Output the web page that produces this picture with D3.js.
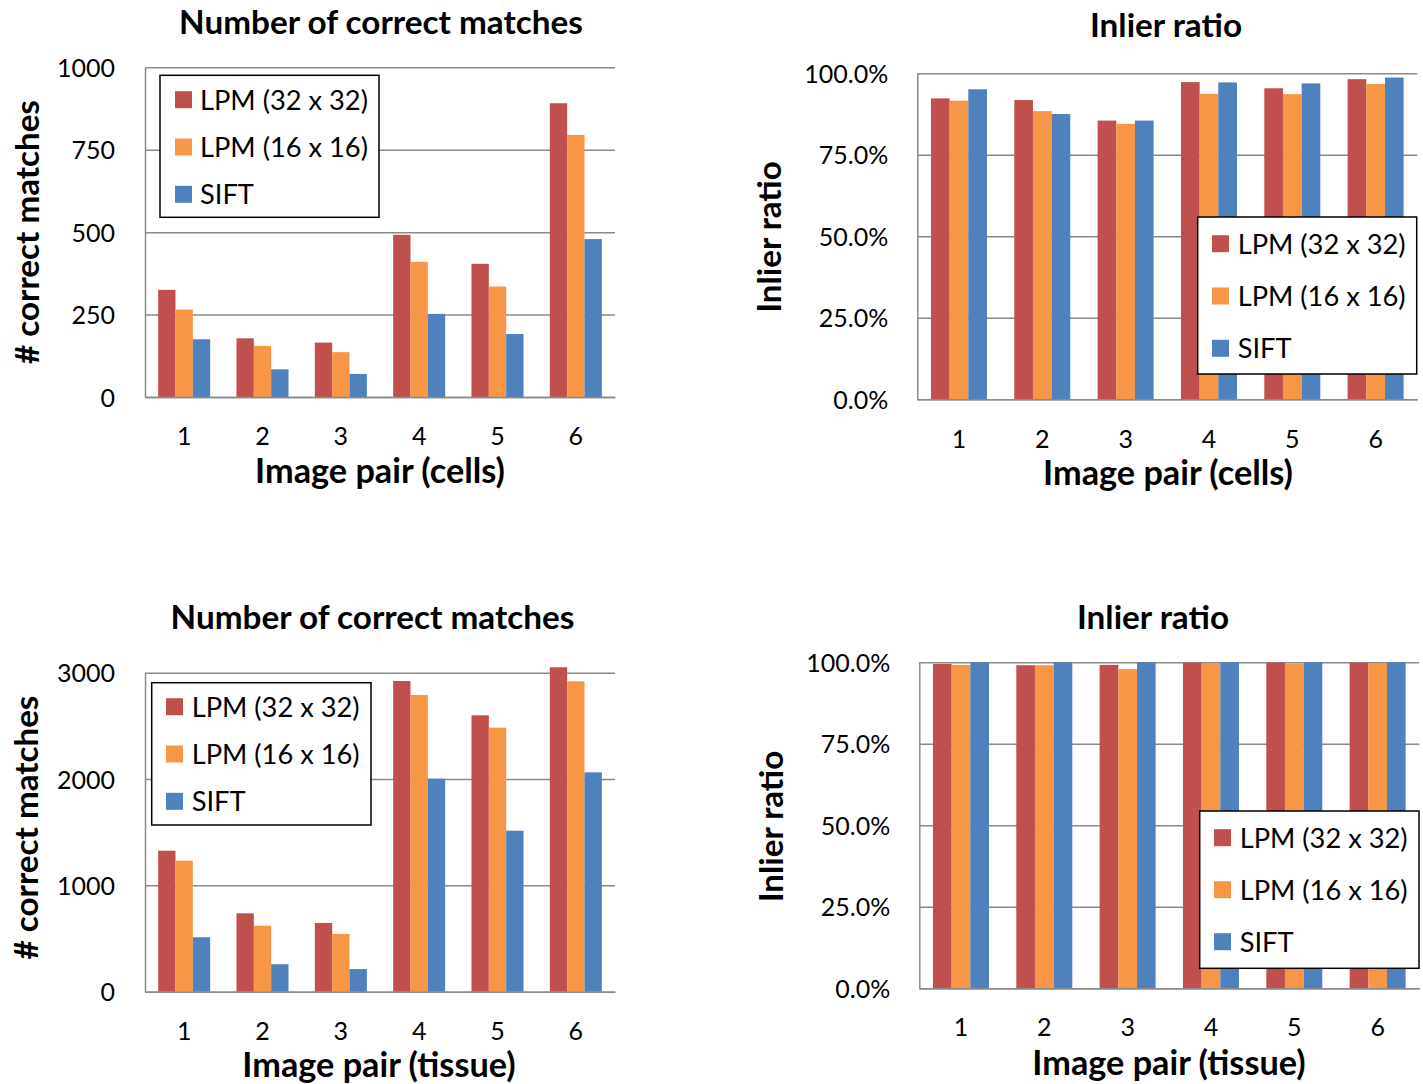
<!DOCTYPE html>
<html>
<head>
<meta charset="utf-8">
<script src="https://cdn.jsdelivr.net/npm/d3@7"></script>
<style>
  html, body { margin: 0; padding: 0; background: #fff; }
  svg { display: block; font-family: Lato, "Open Sans", sans-serif; }
</style>
</head>
<body>
<svg id="chart" width="1423" height="1084"></svg>
<script>
// ---------------- DATA ----------------
const categories = ["1", "2", "3", "4", "5", "6"];
const seriesNames = ["LPM (32 x 32)", "LPM (16 x 16)", "SIFT"];
const seriesColors = ["#C0504D", "#F79646", "#4F81BD"];

// Number of correct matches (cells)
const cellsMatchesLPM32 = [325, 178, 165, 492, 404, 891];
const cellsMatchesLPM16 = [265, 155, 136, 410, 335, 795];
const cellsMatchesSIFT  = [175, 84, 70, 252, 191, 479];

// Inlier ratio in % (cells)
const cellsInlierLPM32 = [92.3, 91.8, 85.5, 97.3, 95.4, 98.2];
const cellsInlierLPM16 = [91.6, 88.4, 84.5, 93.7, 93.6, 96.7];
const cellsInlierSIFT  = [95.1, 87.5, 85.5, 97.2, 96.9, 98.7];

// Number of correct matches (tissue)
const tissueMatchesLPM32 = [1326, 737, 646, 2922, 2599, 3051];
const tissueMatchesLPM16 = [1232, 621, 543, 2790, 2483, 2919];
const tissueMatchesSIFT  = [512, 258, 213, 2003, 1514, 2063];

// Inlier ratio in % (tissue)
const tissueInlierLPM32 = [99.5, 99.1, 99.2, 99.9, 99.9, 99.9];
const tissueInlierLPM16 = [99.2, 99.1, 97.9, 99.8, 99.6, 99.8];
const tissueInlierSIFT  = [100, 100, 100, 100, 100, 100];

// Tick values / labels
const cellsMatchTicks = [0, 250, 500, 750, 1000];
const tissueMatchTicks = [0, 1000, 2000, 3000];
const ratioTicks = [0, 25, 50, 75, 100];
const ratioTickLabels = ["0.0%", "25.0%", "50.0%", "75.0%", "100.0%"];

const titleMatches = "Number of correct matches";
const titleRatio = "Inlier ratio";
const yTitleMatches = "# correct matches";
const yTitleRatio = "Inlier ratio";
const xTitleCells = "Image pair (cells)";
const xTitleTissue = "Image pair (tissue)";

// ---------------- LAYOUT ----------------
const svg = d3.select("#chart");
const FONT = 'Lato, "Open Sans", sans-serif';
const GRID = "#8a8a8a";

function fitSize(text, weight, target) {
  const t = svg.append("text").attr("font-family", FONT).attr("font-weight", weight)
    .attr("font-size", 100).text(text);
  const w = t.node().getComputedTextLength();
  t.remove();
  return 100 * target / w;
}
const tickFS = fitSize("1000", 400, 58);
const legendFS = fitSize("LPM (32 x 32)", 400, 168);
const titleFS = fitSize(titleMatches, 700, 404);
const xTitleFS = fitSize(xTitleCells, 700, 250);
const yTitleFS = fitSize(yTitleMatches, 700, 264);

const panels = [
  { left: 145, right: 615, top: 67.3, bottom: 397, pad: 0.336,
    domain: [0, 1000], ticks: cellsMatchTicks, labels: cellsMatchTicks.map(String),
    series: [cellsMatchesLPM32, cellsMatchesLPM16, cellsMatchesSIFT],
    title: titleMatches, titleX: 381, titleY: 34,
    xTitle: xTitleCells, xTitleX: 380, xTitleOff: 86, xTickOff: 39,
    yTitle: yTitleMatches, yTitleX: 39, yTitleY: 232, tickPad: 30,
    legend: { x: 160, y: 75.3, w: 219, h: 142, first: 24.4, step: 47.3, sw: 15 } },
  { left: 917.3, right: 1417.3, top: 73.3, bottom: 399.3, pad: 0.328,
    domain: [0, 100], ticks: ratioTicks, labels: ratioTickLabels,
    series: [cellsInlierLPM32, cellsInlierLPM16, cellsInlierSIFT],
    title: titleRatio, titleX: 1166, titleY: 37,
    xTitle: xTitleCells, xTitleX: 1168, xTitleOff: 86, xTickOff: 40,
    yTitle: yTitleRatio, yTitleX: 781, yTitleY: 237, tickPad: 29,
    legend: { x: 1197.7, y: 217, w: 219, h: 157, first: 26.7, step: 52.3, sw: 14.3 } },
  { left: 145, right: 615, top: 672.7, bottom: 991.7, pad: 0.336,
    domain: [0, 3000], ticks: tissueMatchTicks, labels: tissueMatchTicks.map(String),
    series: [tissueMatchesLPM32, tissueMatchesLPM16, tissueMatchesSIFT],
    title: titleMatches, titleX: 372.5, titleY: 629,
    xTitle: xTitleTissue, xTitleX: 379, xTitleOff: 85, xTickOff: 39,
    yTitle: yTitleMatches, yTitleX: 38, yTitleY: 827.5, tickPad: 30,
    legend: { x: 151.7, y: 682.7, w: 219.3, h: 142.3, first: 24, step: 47.3, sw: 14.3 } },
  { left: 919.3, right: 1419.3, top: 662.3, bottom: 988.3, pad: 0.328,
    domain: [0, 100], ticks: ratioTicks, labels: ratioTickLabels,
    series: [tissueInlierLPM32, tissueInlierLPM16, tissueInlierSIFT],
    title: titleRatio, titleX: 1153, titleY: 629,
    xTitle: xTitleTissue, xTitleX: 1169, xTitleOff: 87, xTickOff: 39,
    yTitle: yTitleRatio, yTitleX: 783, yTitleY: 826.5, tickPad: 29,
    legend: { x: 1199.7, y: 811, w: 219.3, h: 157.3, first: 26.7, step: 52, sw: 14.3 } }
];

panels.forEach(p => {
  const g = svg.append("g");
  const x = d3.scaleBand().domain(categories).range([p.left, p.right])
    .paddingInner(p.pad).paddingOuter(p.pad / 2);
  const xs = d3.scaleBand().domain(d3.range(seriesNames.length)).range([0, x.bandwidth()]);
  const y = d3.scaleLinear().domain(p.domain).range([p.bottom, p.top]);
  const width = p.right - p.left;

  // gridlines + y axis
  const yAxis = g.append("g").attr("transform", `translate(${p.left},0)`)
    .call(d3.axisLeft(y).tickValues(p.ticks).tickSize(-width).tickSizeOuter(0)
      .tickPadding(p.tickPad).tickFormat((d, i) => p.labels[i]));
  yAxis.selectAll("line").attr("stroke", GRID).attr("stroke-width", 1.5);
  yAxis.select(".domain").attr("stroke", GRID).attr("stroke-width", 1.5);
  yAxis.selectAll("text").attr("font-family", FONT).attr("font-size", tickFS)
    .attr("fill", "#000").attr("dy", "0.36em");

  // bars
  p.series.forEach((vals, si) => {
    g.append("g").selectAll("rect").data(vals).join("rect")
      .attr("x", (d, i) => x(categories[i]) + xs(si))
      .attr("width", xs.bandwidth())
      .attr("y", d => y(d))
      .attr("height", d => y(p.domain[0]) - y(d))
      .attr("fill", seriesColors[si]);
  });

  // x axis
  const xAxis = g.append("g").attr("transform", `translate(0,${p.bottom})`)
    .call(d3.axisBottom(x).tickSize(0).tickSizeOuter(0).tickPadding(0));
  xAxis.select(".domain").attr("stroke", GRID).attr("stroke-width", 1.5);
  xAxis.selectAll("text").attr("font-family", FONT).attr("font-size", tickFS)
    .attr("fill", "#000").attr("y", p.xTickOff).attr("dy", "0.36em");

  // titles
  g.append("text").attr("x", p.titleX).attr("y", p.titleY).attr("text-anchor", "middle")
    .attr("font-family", FONT).attr("font-weight", 700).attr("font-size", titleFS).text(p.title);
  g.append("text").attr("x", p.xTitleX).attr("y", p.bottom + p.xTitleOff).attr("text-anchor", "middle")
    .attr("font-family", FONT).attr("font-weight", 700).attr("font-size", xTitleFS).text(p.xTitle);
  g.append("text").attr("transform", `translate(${p.yTitleX},${p.yTitleY}) rotate(-90)`)
    .attr("text-anchor", "middle")
    .attr("font-family", FONT).attr("font-weight", 700).attr("font-size", yTitleFS).text(p.yTitle);

  // legend
  const L = p.legend;
  const lg = g.append("g").attr("transform", `translate(${L.x},${L.y})`);
  lg.append("rect").attr("width", L.w).attr("height", L.h).attr("fill", "#fff")
    .attr("stroke", "#000").attr("stroke-width", 1.5);
  seriesNames.forEach((name, i) => {
    const cy = L.first + i * L.step;
    lg.append("rect").attr("x", L.sw).attr("y", cy - 8.5).attr("width", 17).attr("height", 17)
      .attr("fill", seriesColors[i]);
    lg.append("text").attr("x", 40).attr("y", cy).attr("dy", "0.36em")
      .attr("font-family", FONT).attr("font-size", legendFS).text(name);
  });
});
</script>
</body>
</html>
